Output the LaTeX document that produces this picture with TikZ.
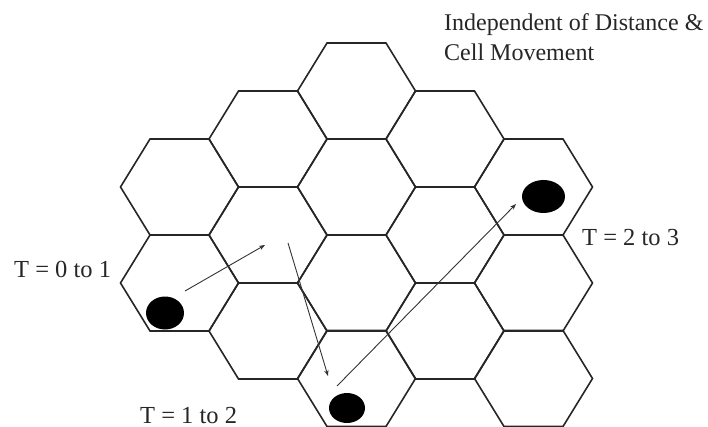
\documentclass[tikz,border=0pt]{standalone}
\usepackage{fontspec}
\setmainfont{Liberation Serif}
\usetikzlibrary{arrows.meta,shapes.geometric}
\begin{document}
\begin{tikzpicture}[x=1pt,y=-1pt,
  hexcell/.style={draw=black!85,line width=1.6pt,line join=miter},
  mobile/.style={ellipse,fill=black,inner sep=0pt},
  move/.style={draw=black!80,line width=0.9pt,-{Stealth[length=6pt,width=4.5pt]}},
  lbl/.style={font=\fontsize{24.5}{29}\selectfont,text=black!85,anchor=base west,inner sep=0pt},
  ttl/.style={font=\fontsize{24}{30}\selectfont,text=black!85,anchor=base west,inner sep=0pt}]
\useasboundingbox (0,0) rectangle (708,427);
% hexagonal cells
\foreach \cx/\cy in {179.5/187,179.5/283,
                     268/139,268/235,268/331,
                     356.5/91,356.5/187,356.5/283,356.5/378.5,
                     445/139,445/235,445/331,
                     533.5/187,533.5/283,533.5/378.5}
  \draw[hexcell] (\cx-59,\cy) -- (\cx-29.5,\cy-48) -- (\cx+29.5,\cy-48)
     -- (\cx+59,\cy) -- (\cx+29.5,\cy+48) -- (\cx-29.5,\cy+48) -- cycle;
% mobile positions
\node[mobile,minimum width=38pt,minimum height=33pt] (d1) at (165,313) {};
\node[mobile,minimum width=36pt,minimum height=30pt] (d2) at (347,408) {};
\node[mobile,minimum width=43pt,minimum height=33pt] (d3) at (543.5,196.5) {};
% movement arrows
\coordinate (a1s) at (185,291);
\coordinate (a1e) at (265,245);
\coordinate (a2s) at (288,243);
\coordinate (a2e) at (328,376);
\coordinate (a3s) at (337,386);
\coordinate (a3e) at (516,204);
\draw[move] (a1s) -- (a1e);
\draw[move] (a2s) -- (a2e);
\draw[move] (a3s) -- (a3e);
% labels
\node[ttl] (t1) at (444,31) {Independent of Distance \&};
\node[ttl] (t2) at (444,61) {Cell Movement};
\node[lbl] (l1) at (14,277) {T = 0 to 1};
\node[lbl] (l2) at (140,423) {T = 1 to 2};
\node[lbl] (l3) at (582,246) {T = 2 to 3};
\end{tikzpicture}
\end{document}
